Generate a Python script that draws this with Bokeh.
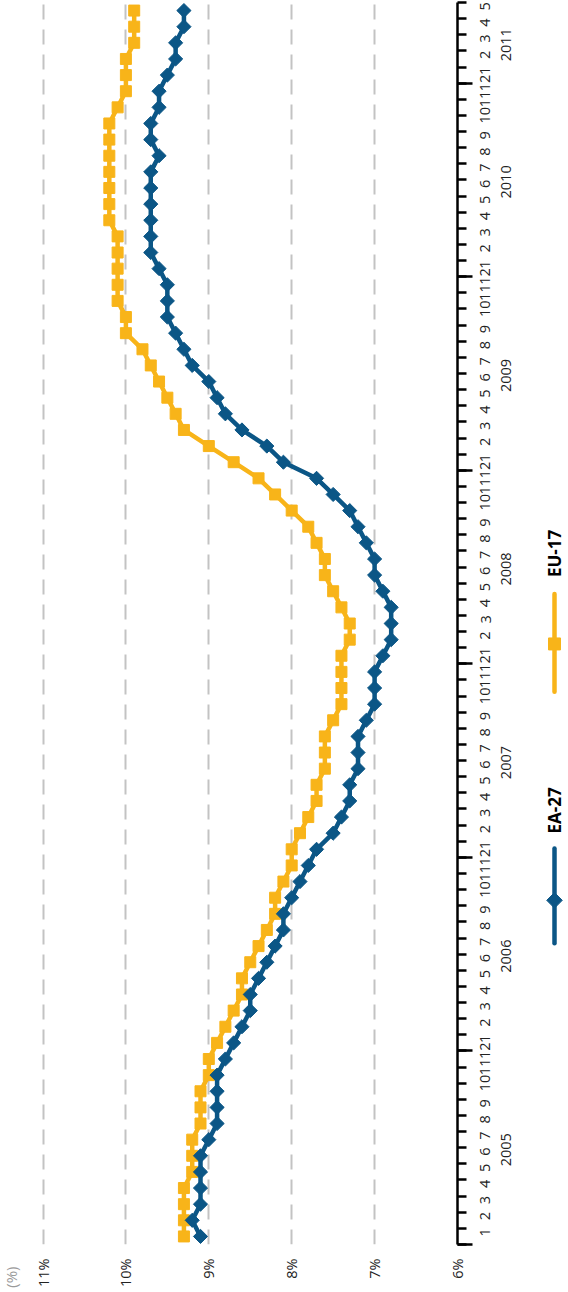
import math
from bokeh.plotting import figure
from bokeh.models import Range1d, FixedTicker, LinearAxis
from bokeh.layouts import row
from bokeh.embed import file_html
from bokeh.resources import INLINE
from bokeh.core.properties import value

# ---------------- data ----------------
years = [2005, 2006, 2007, 2008, 2009, 2010, 2011]
months_per_year = [12, 12, 12, 12, 12, 12, 5]
month_labels = ["1", "2", "3", "4", "5", "6", "7", "8", "9", "10", "11", "12"]
pct_ticks = [6, 7, 8, 9, 10, 11]
pct_labels = ["6%", "7%", "8%", "9%", "10%", "11%"]
unit_label = "(%)"
series_names = ["EA-27", "EU-17"]

ea27 = [9.1, 9.2, 9.1, 9.1, 9.1, 9.1, 9.0, 8.9, 8.9, 8.9, 8.9, 8.8,
        8.7, 8.6, 8.5, 8.5, 8.4, 8.3, 8.2, 8.1, 8.1, 8.0, 7.9, 7.8,
        7.7, 7.5, 7.4, 7.3, 7.3, 7.2, 7.2, 7.2, 7.1, 7.0, 7.0, 7.0,
        6.9, 6.8, 6.8, 6.8, 6.9, 7.0, 7.0, 7.1, 7.2, 7.3, 7.5, 7.7,
        8.1, 8.3, 8.6, 8.8, 8.9, 9.0, 9.2, 9.3, 9.4, 9.5, 9.5, 9.5,
        9.6, 9.7, 9.7, 9.7, 9.7, 9.7, 9.7, 9.6, 9.7, 9.7, 9.6, 9.6,
        9.5, 9.4, 9.4, 9.3, 9.3]

eu17 = [9.3, 9.3, 9.3, 9.3, 9.2, 9.2, 9.2, 9.1, 9.1, 9.1, 9.0, 9.0,
        8.9, 8.8, 8.7, 8.6, 8.6, 8.5, 8.4, 8.3, 8.2, 8.2, 8.1, 8.0,
        8.0, 7.9, 7.8, 7.7, 7.7, 7.6, 7.6, 7.6, 7.5, 7.4, 7.4, 7.4,
        7.4, 7.3, 7.3, 7.4, 7.5, 7.6, 7.6, 7.7, 7.8, 8.0, 8.2, 8.4,
        8.7, 9.0, 9.3, 9.4, 9.5, 9.6, 9.7, 9.8, 10.0, 10.0, 10.1, 10.1,
        10.1, 10.1, 10.1, 10.2, 10.2, 10.2, 10.2, 10.2, 10.2, 10.2, 10.1, 10.0,
        10.0, 10.0, 9.9, 9.9, 9.9]

# ---------------- style / layout ----------------
BLUE = "#0b5686"
YELLOW = "#f8b419"
GRID = "#c3c3c3"
TXT = "#222222"
FONT = "Open Sans"
FS = "14.5px"

H = 1290
TOP = 2            # frame top (px)
BOTTOM = 1247      # frame bottom (px)
LEFT_W = 22
MAIN_W = 516
LEG_W = 28
FRAME_W = 435
PX_PER_PCT = 82.9

n = len(ea27)
ymid = [i + 0.5 for i in range(n)]

# month-centre labels and year labels
month_ticks, month_over = [], {}
year_bounds, year_ticks, year_over = [0], [], {}
k = 0
for yr, m in zip(years, months_per_year):
    for j in range(m):
        month_ticks.append(k + j + 0.5)
        month_over[k + j + 0.5] = month_labels[j]
    pos = k + m / 2 - 1.15
    year_ticks.append(pos)
    year_over[pos] = str(yr)
    k += m
    if m == 12:
        year_bounds.append(k)
month_bounds = list(range(0, n + 1))

x_start = 6 + FRAME_W / PX_PER_PCT

common = dict(output_backend="svg", toolbar_location=None, height=H,
              min_border_top=TOP, min_border_bottom=H - BOTTOM)

p = figure(width=MAIN_W, x_range=Range1d(x_start, 6), y_range=Range1d(0, n),
           y_axis_location="right", min_border_left=0,
           min_border_right=MAIN_W - FRAME_W, **common)
p.outline_line_color = None

# grid
p.ygrid.visible = False
p.xgrid.ticker = FixedTicker(ticks=[t for t in pct_ticks if t != 6])
p.xgrid.grid_line_color = GRID
p.xgrid.grid_line_width = 2
p.xgrid.grid_line_dash = "15 10"

# bottom value axis
xa = p.xaxis[0]
xa.ticker = FixedTicker(ticks=pct_ticks)
xa.major_label_overrides = dict(zip(pct_ticks, pct_labels))
xa.axis_line_color = None
xa.major_tick_line_color = None
xa.minor_tick_line_color = None
xa.major_label_orientation = math.pi / 2
xa.major_label_standoff = 8
xa.major_label_text_font = FONT
xa.major_label_text_font_size = FS
xa.major_label_text_color = TXT

# right time axis: line + ticks
ya = p.yaxis[0]
ya.ticker = FixedTicker(ticks=year_bounds, minor_ticks=month_bounds)
ya.major_label_overrides = {t: "" for t in year_bounds}
ya.major_label_text_font_size = "0px"
ya.major_label_standoff = 0
ya.axis_line_color = "black"
ya.axis_line_width = 2.5
ya.major_tick_line_color = "black"
ya.major_tick_line_width = 2.5
ya.major_tick_out = 15
ya.major_tick_in = 0
ya.minor_tick_line_color = "black"
ya.minor_tick_line_width = 2.5
ya.minor_tick_out = 9
ya.minor_tick_in = 0

# month labels
ma = LinearAxis(ticker=FixedTicker(ticks=month_ticks), major_label_overrides=month_over,
                axis_line_color=None, major_tick_line_color=None, minor_tick_line_color=None,
                major_label_orientation=math.pi / 2, major_label_standoff=7,
                major_label_text_font=FONT, major_label_text_font_size=FS,
                major_label_text_color=TXT)
p.add_layout(ma, "right")

# year labels
ya2 = LinearAxis(ticker=FixedTicker(ticks=year_ticks), major_label_overrides=year_over,
                 axis_line_color=None, major_tick_line_color=None, minor_tick_line_color=None,
                 major_label_orientation=math.pi / 2, major_label_standoff=2,
                 major_label_text_font=FONT, major_label_text_font_size=FS,
                 major_label_text_color=TXT)
p.add_layout(ya2, "right")

# series
p.line(eu17, ymid, line_color=YELLOW, line_width=4.5)
p.scatter(eu17, ymid, marker="square", size=11, color=YELLOW)
p.line(ea27, ymid, line_color=BLUE, line_width=4.5)
p.scatter(ea27, ymid, marker="square", angle=math.pi / 4, size=10, color=BLUE)

# left strip carrying the unit label
lf = figure(width=LEFT_W, x_range=Range1d(0, LEFT_W), y_range=Range1d(0, 1),
            y_axis_location=None, min_border_left=0, min_border_right=0, **common)
lf.grid.visible = False
lf.outline_line_color = None
la = lf.xaxis[0]
la.ticker = FixedTicker(ticks=[14])
la.major_label_overrides = {14: unit_label}
la.axis_line_color = None
la.major_tick_line_color = None
la.minor_tick_line_color = None
la.major_label_orientation = math.pi / 2
la.major_label_standoff = 16
la.major_label_text_font = FONT
la.major_label_text_font_size = "15px"
la.major_label_text_color = "#9a9a9a"

# right strip with legend (y in px, same as frame)
lg = figure(width=LEG_W, x_range=Range1d(0, LEG_W), y_range=Range1d(BOTTOM, TOP),
            x_axis_location=None, y_axis_location=None,
            min_border_left=0, min_border_right=0, **common)
lg.grid.visible = False
lg.outline_line_color = None
LX = 16
legend_items = [
    # name, colour, marker angle, marker size, text anchor, line top, line bottom, marker y
    (series_names[1], YELLOW, 0, 12, 578, 595, 693, 645),
    (series_names[0], BLUE, math.pi / 4, 11, 835, 850, 945, 902),
]
for name, col, ang, ms, ty, l0, l1, my in legend_items:
    lg.line([LX, LX], [l0, l1], line_color=col, line_width=4.5, line_cap="round")
    lg.scatter([LX], [my], marker="square", angle=ang, size=ms, color=col)
    lg.text(x=[LX], y=[ty], text=[name], angle=math.pi / 2, text_align="left",
            text_baseline="middle", text_font=value(FONT), text_font_size="17px",
            text_font_style="bold", text_color="black")

layout = row(lf, p, lg, spacing=0)
open("out.html", "w").write(file_html(layout, INLINE))
